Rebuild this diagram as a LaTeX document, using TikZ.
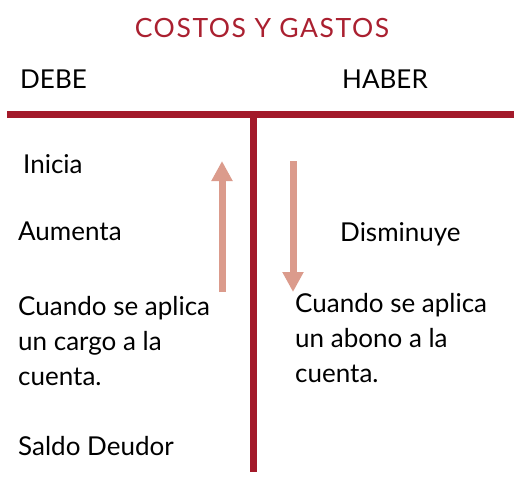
\documentclass[tikz,border=0pt]{standalone}
\usepackage{fontspec}
\setmainfont{Lato}
\usetikzlibrary{arrows.meta}
\definecolor{cuentared}{RGB}{163,26,42}
\definecolor{titlered}{RGB}{170,32,48}
\definecolor{flecha}{RGB}{219,155,140}

\begin{document}
\begin{tikzpicture}[x=1pt,y=-1pt,
    label text/.style={anchor=base west,inner sep=0pt,font=\fontsize{26}{34}\selectfont},
    t line/.style={cuentared,line width=7pt},
    move arrow/.style={flecha,line width=7pt,-{Triangle[width=20pt,length=20pt]}}]
    \useasboundingbox (0,0) rectangle (530,483);

    \node[anchor=base,inner sep=0pt,font=\fontsize{26.5}{34}\selectfont\addfontfeatures{LetterSpace=6},text=titlered] (title) at (262,37.5) {COSTOS Y GASTOS};
    \node[label text] (debe) at (20,88.5) {DEBE};
    \node[label text] (haber) at (342,88.5) {HABER};

    % la cuenta T
    \coordinate (hl) at (7,114);
    \coordinate (hr) at (514,114);
    \coordinate (vt) at (253,114);
    \coordinate (vb) at (253,472);
    \draw[t line] (hl) -- (hr);
    \draw[t line] (vt) -- (vb);

    % lado izquierdo
    \node[label text] (inicia) at (23,173) {Inicia};
    \node[label text] (aumenta) at (18,240) {Aumenta};
    \node[label text] (cargo1) at (18,315) {Cuando se aplica};
    \node[label text] (cargo2) at (18,350) {un cargo a la};
    \node[label text] (cargo3) at (18,385) {cuenta.};
    \node[label text] (saldo) at (18,455) {Saldo Deudor};

    % lado derecho
    \node[label text] (disminuye) at (340,241) {Disminuye};
    \node[label text] (abono1) at (295,312) {Cuando se aplica};
    \node[label text] (abono2) at (295,347) {un abono a la};
    \node[label text] (abono3) at (295,382) {cuenta.};

    \coordinate (up0) at (222,292);
    \coordinate (up1) at (222,161);
    \coordinate (dn0) at (293,161);
    \coordinate (dn1) at (293,292);
    \draw[move arrow] (up0) -- (up1);
    \draw[move arrow] (dn0) -- (dn1);
\end{tikzpicture}
\end{document}
